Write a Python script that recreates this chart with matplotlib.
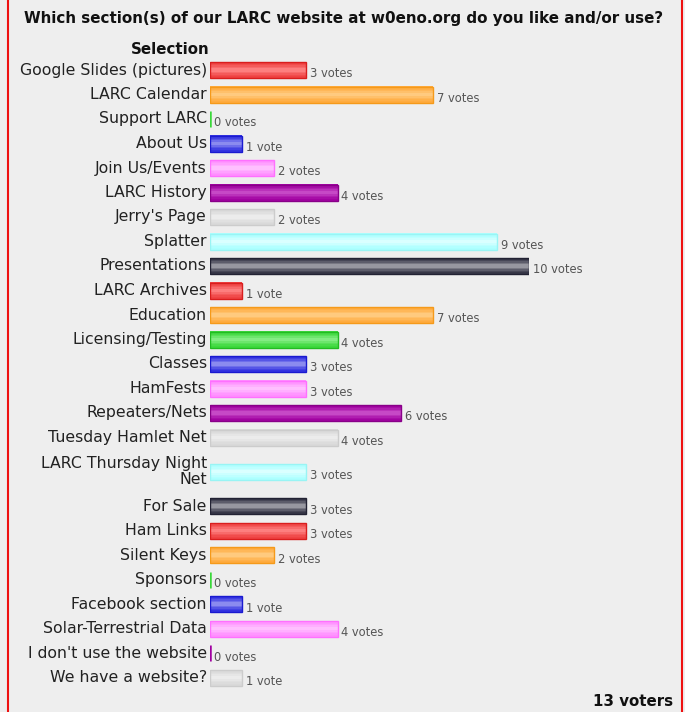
import matplotlib
matplotlib.use("Agg")
import matplotlib.pyplot as plt
from matplotlib.colors import to_rgb
import numpy as np

title = "Which section(s) of our LARC website at w0eno.org do you like and/or use?"
categories = ["Google Slides (pictures)", "LARC Calendar", "Support LARC", "About Us",
              "Join Us/Events", "LARC History", "Jerry's Page", "Splatter", "Presentations",
              "LARC Archives", "Education", "Licensing/Testing", "Classes", "HamFests",
              "Repeaters/Nets", "Tuesday Hamlet Net", "LARC Thursday Night\nNet", "For Sale",
              "Ham Links", "Silent Keys", "Sponsors", "Facebook section",
              "Solar-Terrestrial Data", "I don't use the website", "We have a website?"]
votes = [3, 7, 0, 1, 2, 4, 2, 9, 10, 1, 7, 4, 3, 3, 6, 4, 3, 3, 3, 2, 0, 1, 4, 0, 1]
total_voters = 13

# (edge, main, centre)
palette = [("#d81e1e", "#ee4040", "#ff8a8a"),
           ("#f59a1a", "#ffaa3c", "#ffd08a"),
           ("#22bb22", "#3ad83a", "#90f090"),
           ("#1a1ad0", "#3030e0", "#9a9af2"),
           ("#ff70ff", "#ff8cff", "#ffc8ff"),
           ("#880088", "#a000a0", "#cc55cc"),
           ("#cccccc", "#d8d8d8", "#f0f0f0"),
           ("#99f4f4", "#aaffff", "#e2ffff"),
           ("#222233", "#333344", "#a8a8b0")]

bg = "#eeeeee"
W, H = 685, 712
fig = plt.figure(figsize=(W / 100, H / 100), dpi=100, facecolor=bg)

pos = []
y = 0.0
for i, c in enumerate(categories):
    if "\n" in c:
        y += 0.4
        pos.append(y)
        y += 0.4
    else:
        pos.append(y)
    y += 1.0
pos = np.array(pos)

px_per_unit = 24.5
top_px = 70 - 0.5 * px_per_unit
bottom_val = pos[-1] + 0.5
bottom_px = 70 + pos[-1] * px_per_unit + 0.5 * px_per_unit
left_px, right_px = 210, 529
ax = fig.add_axes([left_px / W, 1 - bottom_px / H, (right_px - left_px) / W, (bottom_px - top_px) / H])
ax.set_facecolor(bg)
ax.set_xlim(0, 10)
ax.set_ylim(bottom_val, -0.5)
ax.axis("off")

bar_h = 16 / px_per_unit
for i, (p, v) in enumerate(zip(pos, votes)):
    edge, main, light = palette[i % len(palette)]
    if v == 0:
        ax.plot([0, 0], [p - bar_h / 2, p + bar_h / 2], color=main, lw=1.8, solid_capstyle="butt")
    else:
        m = np.array(to_rgb(main)); l = np.array(to_rgb(light))
        n = 10
        for k in range(n):
            t = 1 - abs((k + 0.5) / n * 2 - 1)
            t = t ** 1.5
            col = m * (1 - t) + l * t
            ax.barh(p - bar_h / 2 + (k + 0.5) * bar_h / n, v, height=bar_h / n * 1.02,
                    left=0, color=col, linewidth=0)
        ax.barh(p, v, height=bar_h, left=0, facecolor="none", edgecolor=edge, linewidth=1.0)
    lbl = f"{v} vote" if v == 1 else f"{v} votes"
    ax.text(v + 0.12, p + 0.16, lbl, va="center", ha="left", fontsize=8.3,
            color="#555555", clip_on=False)
    ax.text(-0.1, p, categories[i], va="center", ha="right", fontsize=11.3,
            color="#222222", linespacing=1.1, clip_on=False)

fig.text(344 / W, 1 - 19 / H, title, ha="center", va="center", fontsize=10.9,
         fontweight="bold", color="#111111")
fig.text(170 / W, 1 - 50 / H, "Selection", ha="center", va="center", fontsize=10.8,
         fontweight="bold", color="#111111")
fig.text(673 / W, 1 - 701 / H, f"{total_voters} voters", ha="right", va="center",
         fontsize=10.8, fontweight="bold", color="#111111")

fig.add_artist(plt.Line2D([7.5 / W, 7.5 / W], [0, 1], color="#ee1111", lw=1.5))
fig.add_artist(plt.Line2D([681.5 / W, 681.5 / W], [0, 1], color="#ee1111", lw=1.5))

fig.savefig("out.png", dpi=100, facecolor=bg)
